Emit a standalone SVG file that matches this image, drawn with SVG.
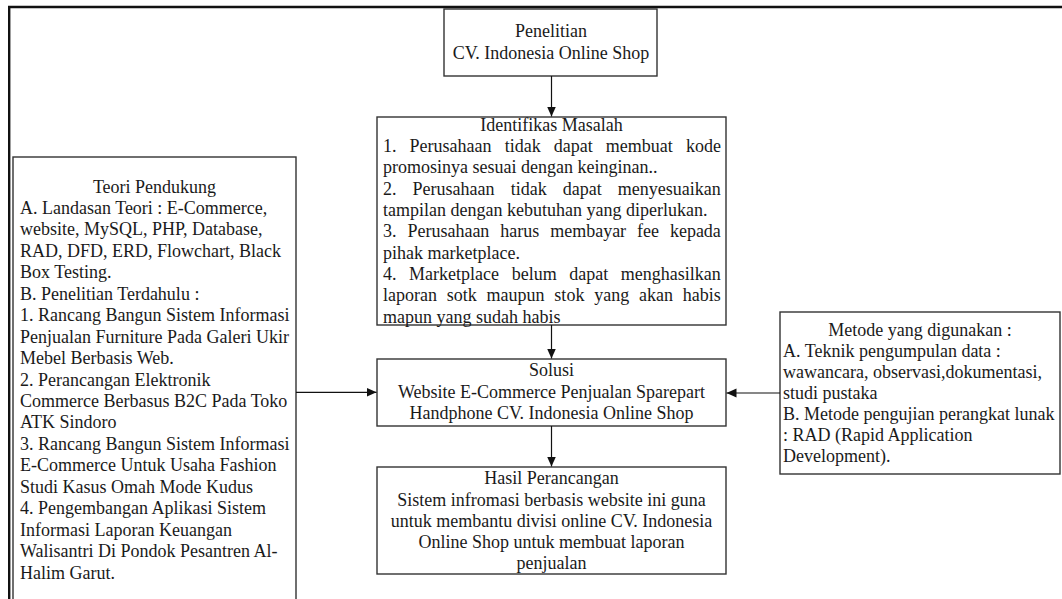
<svg xmlns="http://www.w3.org/2000/svg" width="1062" height="599" viewBox="0 0 1062 599">
<style>
  .box { fill: #ffffff; stroke: #333333; stroke-width: 1.4; }
  .frame { fill: none; stroke: #111111; stroke-width: 2.4; }
  .conn { fill: none; stroke: #111111; stroke-width: 1.2; }
  text { font-family: "Liberation Serif", "Times New Roman", serif; font-size: 18px; fill: #1a1a1a; }
  .c { text-anchor: middle; }
</style>
<defs>
  <marker id="arrow" markerUnits="userSpaceOnUse" markerWidth="11" markerHeight="10" refX="10" refY="4.5" orient="auto">
    <path d="M0,0 L10,4.5 L0,9 z" fill="#111111"/>
  </marker>
</defs>
<rect width="1062" height="599" fill="#ffffff"/>
<path class="frame" d="M9.2,620 L9.2,7 L1070,7"/>

<g id="node-penelitian">
  <rect class="box" x="444" y="9" width="213" height="67"/>
  <text class="c" x="551" y="37">Penelitian</text>
  <text class="c" x="551" y="59">CV. Indonesia Online Shop</text>
</g>

<g id="node-identifikasi">
  <rect class="box" x="377" y="117" width="349" height="208"/>
  <text class="c" x="551.5" y="130.5">Identifikas Masalah</text>
  <text x="383" y="151.8" word-spacing="8.6">1. Perusahaan tidak dapat membuat kode</text>
  <text x="383" y="173.2">promosinya sesuai dengan keinginan..</text>
  <text x="383" y="194.5" word-spacing="11.6">2. Perusahaan tidak dapat menyesuaikan</text>
  <text x="383" y="215.8">tampilan dengan kebutuhan yang diperlukan.</text>
  <text x="383" y="237.2" word-spacing="6.4">3. Perusahaan harus membayar fee kepada</text>
  <text x="383" y="258.5">pihak marketplace.</text>
  <text x="383" y="279.8" word-spacing="8.1">4. Marketplace belum dapat menghasilkan</text>
  <text x="383" y="301.2" word-spacing="5.3">laporan sotk maupun stok yang akan habis</text>
  <text x="383" y="322.5">mapun yang sudah habis</text>
</g>

<g id="node-teori">
  <rect class="box" x="13" y="157" width="283" height="460"/>
  <text class="c" x="154.5" y="192.5">Teori Pendukung</text>
  <text x="20" y="213.9">A. Landasan Teori : E-Commerce,</text>
  <text x="20" y="235.4">website, MySQL, PHP, Database,</text>
  <text x="20" y="256.8">RAD, DFD, ERD, Flowchart, Black</text>
  <text x="20" y="278.3">Box Testing.</text>
  <text x="20" y="299.7">B. Penelitian Terdahulu :</text>
  <text x="20" y="321.2">1. Rancang Bangun Sistem Informasi</text>
  <text x="20" y="342.6">Penjualan Furniture Pada Galeri Ukir</text>
  <text x="20" y="364.1">Mebel Berbasis Web.</text>
  <text x="20" y="385.5">2. Perancangan Elektronik</text>
  <text x="20" y="407">Commerce Berbasus B2C Pada Toko</text>
  <text x="20" y="428.4">ATK Sindoro</text>
  <text x="20" y="449.9">3. Rancang Bangun Sistem Informasi</text>
  <text x="20" y="471.3">E-Commerce Untuk Usaha Fashion</text>
  <text x="20" y="492.8">Studi Kasus Omah Mode Kudus</text>
  <text x="20" y="514.2">4. Pengembangan Aplikasi Sistem</text>
  <text x="20" y="535.7">Informasi Laporan Keuangan</text>
  <text x="20" y="557.1">Walisantri Di Pondok Pesantren Al-</text>
  <text x="20" y="578.6">Halim Garut.</text>
</g>

<g id="node-solusi">
  <rect class="box" x="377" y="359" width="349" height="67"/>
  <text class="c" x="551.5" y="376">Solusi</text>
  <text class="c" x="551.5" y="397.5">Website E-Commerce Penjualan Sparepart</text>
  <text class="c" x="551.5" y="419">Handphone CV. Indonesia Online Shop</text>
</g>

<g id="node-metode">
  <rect class="box" x="780" y="312" width="280" height="162"/>
  <text class="c" x="920" y="336">Metode yang digunakan :</text>
  <text x="783" y="357">A. Teknik pengumpulan data :</text>
  <text x="783" y="378">wawancara, observasi,dokumentasi,</text>
  <text x="783" y="399">studi pustaka</text>
  <text x="783" y="420">B. Metode pengujian perangkat lunak</text>
  <text x="783" y="441">: RAD (Rapid Application</text>
  <text x="783" y="462">Development).</text>
</g>

<g id="node-hasil">
  <rect class="box" x="377" y="467" width="349" height="107"/>
  <text class="c" x="551.5" y="484">Hasil Perancangan</text>
  <text class="c" x="551.5" y="505.5">Sistem infromasi berbasis website ini guna</text>
  <text class="c" x="551.5" y="527">untuk membantu divisi online CV. Indonesia</text>
  <text class="c" x="551.5" y="548">Online Shop untuk membuat laporan</text>
  <text class="c" x="551.5" y="569">penjualan</text>
</g>

<g id="connectors">
  <line class="conn" x1="551.5" y1="76" x2="551.5" y2="116.5" marker-end="url(#arrow)"/>
  <line class="conn" x1="551.5" y1="325" x2="551.5" y2="358.5" marker-end="url(#arrow)"/>
  <line class="conn" x1="551.5" y1="426" x2="551.5" y2="466.5" marker-end="url(#arrow)"/>
  <line class="conn" x1="296" y1="392.3" x2="376.5" y2="392.3" marker-end="url(#arrow)"/>
  <line class="conn" x1="780" y1="393" x2="726.5" y2="393" marker-end="url(#arrow)"/>
</g>
</svg>
